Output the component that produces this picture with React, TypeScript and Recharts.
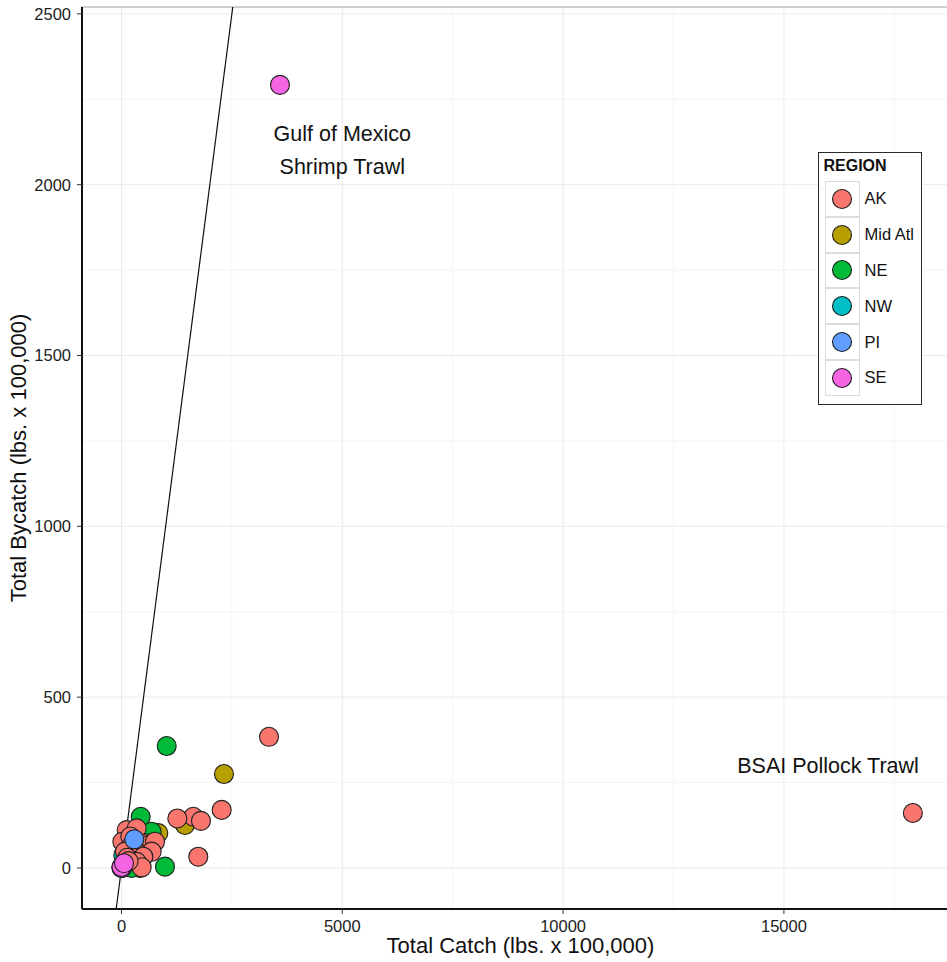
import React from "react";
import {
  ScatterChart,
  Scatter,
  XAxis,
  YAxis,
  CartesianGrid,
  ReferenceLine,
  ReferenceDot,
  Legend,
} from "recharts";

const FONT = '"Liberation Sans", Arial, Helvetica, sans-serif';

// Total catch vs. total bycatch (lbs. x 100,000), one array per region
const akPoints = [
  { x: 17920, y: 161 },
  { x: 3340, y: 384 },
  { x: 2269, y: 170 },
  { x: 1626, y: 150 },
  { x: 1264, y: 145 },
  { x: 1800, y: 138 },
  { x: 1739, y: 33 },
  { x: 118, y: 111 },
  { x: 344, y: 116 },
  { x: 20, y: 77 },
  { x: 200, y: 92 },
  { x: 560, y: 72 },
  { x: 607, y: 67 },
  { x: 759, y: 77 },
  { x: 200, y: 62 },
  { x: 300, y: 55 },
  { x: 79, y: 48 },
  { x: 684, y: 48 },
  { x: 419, y: 38 },
  { x: 494, y: 33 },
  { x: 130, y: 30 },
  { x: 344, y: 18 },
  { x: 457, y: 2 },
  { x: 160, y: 20 },
  { x: 20, y: 4 },
];
const midAtlPoints = [
  { x: 2321, y: 275 },
  { x: 1438, y: 126 },
  { x: 833, y: 102 },
  { x: 419, y: 0 },
  { x: 10, y: 0 },
];
const nePoints = [
  { x: 1024, y: 357 },
  { x: 985, y: 4 },
  { x: 435, y: 150 },
  { x: 684, y: 106 },
  { x: 231, y: 0 },
  { x: 5, y: 2 },
];
const nwPoints = [
  { x: 41, y: 38 },
  { x: 0, y: 0 },
];
const piPoints = [
  { x: 290, y: 84 },
  { x: 15, y: 1 },
];
const sePoints = [
  { x: 3589, y: 2292 },
  { x: 0, y: 3 },
  { x: 57, y: 14 },
];

const regions = [
  { name: "AK", color: "#F8766D", points: akPoints },
  { name: "Mid Atl", color: "#B79F00", points: midAtlPoints },
  { name: "NE", color: "#00BA38", points: nePoints },
  { name: "NW", color: "#00BFC4", points: nwPoints },
  { name: "PI", color: "#619CFF", points: piPoints },
  { name: "SE", color: "#F564E3", points: sePoints },
];
// AK sits on top of the east coast regions, PI and SE on top of everything
const drawOrder = ["Mid Atl", "NE", "NW", "AK", "PI", "SE"];

const xTicks = [0, 5000, 10000, 15000];
const yTicks = [0, 500, 1000, 1500, 2000, 2500];
const xDomain = [-894, 18693];
const yDomain = [-120, 2520];

const annotations = [
  { x: 5000, y: 2100, lines: ["Gulf of Mexico", "Shrimp Trawl"] },
  { x: 16000, y: 300, lines: ["BSAI Pollock Trawl"] },
];

const midpoints = (ticks: number[]) => {
  const step = ticks[1] - ticks[0];
  return ticks.map((t) => t + step / 2);
};

const renderDot = (props: any) => (
  <circle
    cx={props.cx}
    cy={props.cy}
    r={9.5}
    fill={props.fill}
    stroke="#1f1f1f"
    strokeWidth={1.1}
  />
);

const AnnotationText = (lines: string[]) => (props: any) => {
  const vb = props.viewBox || {};
  const cx = (vb.x ?? 0) + (vb.width ?? 0) / 2;
  const cy = (vb.y ?? 0) + (vb.height ?? 0) / 2;
  const lineH = 33;
  const top = cy - ((lines.length - 1) * lineH) / 2;
  return (
    <text
      fontFamily={FONT}
      fontSize={21.5}
      fill="#111"
      textAnchor="middle"
      dominantBaseline="central"
    >
      {lines.map((l, i) => (
        <tspan key={l} x={cx} y={top + i * lineH}>
          {l}
        </tspan>
      ))}
    </text>
  );
};

const RegionLegend = () => (
  <div
    style={{
      boxSizing: "border-box",
      width: 104,
      height: 253,
      border: "1.5px solid #2b2b2b",
      background: "#fff",
      padding: "3px 0 0 5.5px",
      fontFamily: FONT,
      color: "#111",
    }}
  >
    <div
      style={{
        fontWeight: "bold",
        fontSize: 16,
        lineHeight: "20px",
        height: 20,
        marginBottom: 5,
        marginLeft: -1,
      }}
    >
      REGION
    </div>
    {regions.map((r) => (
      <div
        key={r.name}
        style={{ display: "flex", alignItems: "center", height: 35.8 }}
      >
        <div
          style={{
            boxSizing: "border-box",
            width: 35,
            height: 35.8,
            border: "1px solid #dcdcdc",
            display: "flex",
            alignItems: "center",
            justifyContent: "center",
          }}
        >
          <svg width={22} height={22}>
            <circle
              cx={11}
              cy={11}
              r={9.5}
              fill={r.color}
              stroke="#1f1f1f"
              strokeWidth={1.1}
            />
          </svg>
        </div>
        <span style={{ marginLeft: 5, fontSize: 16.5 }}>{r.name}</span>
      </div>
    ))}
  </div>
);

export default function App() {
  const ordered = drawOrder.map((n) => regions.find((r) => r.name === n)!);
  return (
    <div
      style={{ position: "absolute", left: 0, top: 0, width: 947, height: 962, background: "#fff" }}
    >
      <ScatterChart
        width={947}
        height={962}
        margin={{ top: 7, right: 0, bottom: 0, left: 0 }}
      >
        <CartesianGrid
          stroke="#f4f4f4"
          strokeWidth={1}
          horizontalValues={midpoints(yTicks)}
          verticalValues={midpoints(xTicks)}
        />
        <CartesianGrid
          stroke="#ebebeb"
          strokeWidth={1}
          horizontalValues={yTicks}
          verticalValues={xTicks}
        />
        <XAxis
          type="number"
          dataKey="x"
          domain={xDomain}
          ticks={xTicks}
          allowDataOverflow
          height={53}
          axisLine={{ stroke: "#111", strokeWidth: 2 }}
          tickLine={{ stroke: "#333", strokeWidth: 1 }}
          tickSize={5}
          tickMargin={6}
          tick={{ fill: "#222", fontSize: 16.5, fontFamily: FONT }}
          label={{
            value: "Total Catch (lbs. x 100,000)",
            position: "center",
            dx: 6,
            dy: 10,
            fill: "#111",
            fontSize: 22,
            fontFamily: FONT,
          }}
        />
        <YAxis
          type="number"
          dataKey="y"
          domain={yDomain}
          ticks={yTicks}
          allowDataOverflow
          width={82}
          axisLine={{ stroke: "#111", strokeWidth: 2 }}
          tickLine={{ stroke: "#333", strokeWidth: 1 }}
          tickSize={5}
          tickMargin={6}
          tick={{ fill: "#222", fontSize: 16.5, fontFamily: FONT }}
          label={{
            value: "Total Bycatch (lbs. x 100,000)",
            angle: -90,
            position: "center",
            dx: -23,
            fill: "#111",
            fontSize: 22,
            fontFamily: FONT,
          }}
        />
        <ReferenceLine y={yDomain[1]} stroke="#a0a0a0" strokeWidth={1} />
        <ReferenceLine
          segment={[
            { x: -200, y: -200 },
            { x: 2600, y: 2600 },
          ]}
          stroke="#111"
          strokeWidth={1.2}
          ifOverflow="hidden"
        />
        {ordered.map((r) => (
          <Scatter
            key={r.name}
            name={r.name}
            data={r.points}
            fill={r.color}
            shape={renderDot}
            isAnimationActive={false}
          />
        ))}
        {annotations.map((a) => (
          <ReferenceDot
            key={a.lines[0]}
            x={a.x}
            y={a.y}
            r={0}
            fill="none"
            stroke="none"
            label={AnnotationText(a.lines)}
          />
        ))}
        <Legend
          layout="horizontal"
          verticalAlign="middle"
          align="center"
          wrapperStyle={{ left: 818, top: 152, width: 104, height: 253 }}
          content={RegionLegend}
        />
      </ScatterChart>
    </div>
  );
}
